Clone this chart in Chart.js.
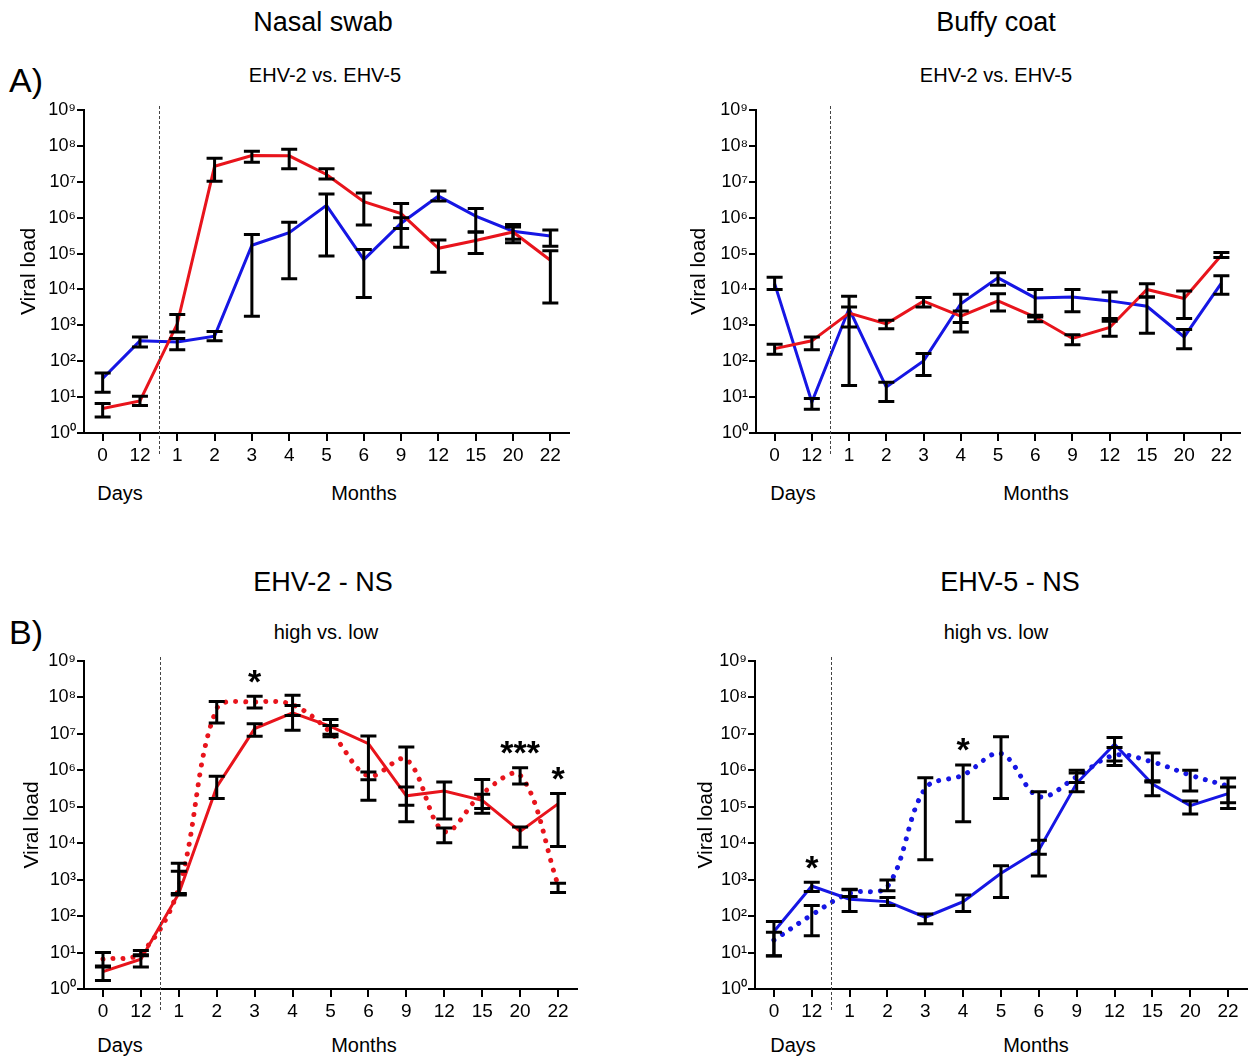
<!DOCTYPE html>
<html lang="en">
<head>
    <meta charset="UTF-8">
    <title>Viral load - EHV-2 / EHV-5</title>
    <script src="https://cdn.jsdelivr.net/npm/chart.js"></script>
    <style>
        body {
            margin: 0;
            background: #fff;
            font-family: "Liberation Sans", Arial, sans-serif;
            color: #000;
        }
        #page {
            position: relative;
            width: 1251px;
            height: 1057px;
            overflow: hidden;
        }
        .box {
            position: absolute;
        }
        .txt {
            position: absolute;
            transform: translate(-50%, -50%);
            white-space: nowrap;
            line-height: 1;
        }
        .title { font-size: 27px; }
        .sub { font-size: 20px; }
        .axis { font-size: 20px; }
        .letter { font-size: 34px; transform: translate(0, -50%); }
    </style>
</head>
<body>
<div id="page">
    <div class="txt title" style="left:323px; top:22px;">Nasal swab</div>
    <div class="txt title" style="left:996px; top:22px;">Buffy coat</div>
    <div class="txt letter" style="left:9px; top:80px;">A)</div>
    <div class="txt sub" style="left:325px; top:75px;">EHV-2 vs. EHV-5</div>
    <div class="txt sub" style="left:996px; top:75px;">EHV-2 vs. EHV-5</div>

    <div class="txt title" style="left:323px; top:582px;">EHV-2 - NS</div>
    <div class="txt title" style="left:1010px; top:582px;">EHV-5 - NS</div>
    <div class="txt letter" style="left:9px; top:632px;">B)</div>
    <div class="txt sub" style="left:326px; top:632px;">high vs. low</div>
    <div class="txt sub" style="left:996px; top:632px;">high vs. low</div>

    <div class="txt axis" style="left:120px; top:493px;">Days</div>
    <div class="txt axis" style="left:364px; top:493px;">Months</div>
    <div class="txt axis" style="left:793px; top:493px;">Days</div>
    <div class="txt axis" style="left:1036px; top:493px;">Months</div>
    <div class="txt axis" style="left:120px; top:1045px;">Days</div>
    <div class="txt axis" style="left:364px; top:1045px;">Months</div>
    <div class="txt axis" style="left:793px; top:1045px;">Days</div>
    <div class="txt axis" style="left:1036px; top:1045px;">Months</div>

    <div class="box" style="left:0px; top:90px; width:573px; height:403px;"><canvas id="nsChart"></canvas></div>
    <div class="box" style="left:672px; top:90px; width:572px; height:403px;"><canvas id="bcChart"></canvas></div>
    <div class="box" style="left:0px; top:641px; width:581px; height:408px;"><canvas id="ehv2Chart"></canvas></div>
    <div class="box" style="left:671px; top:641px; width:580px; height:408px;"><canvas id="ehv5Chart"></canvas></div>
</div>
<script>
    // time points: 0 and 12 days, then months
    const timeLabels = ['0', '12', '1', '2', '3', '4', '5', '6', '9', '12', '15', '20', '22'];
    const yTicks = [1, 1e1, 1e2, 1e3, 1e4, 1e5, 1e6, 1e7, 1e8, 1e9];
    const yTickLabels = ['10⁰', '10¹', '10²', '10³', '10⁴', '10⁵', '10⁶', '10⁷', '10⁸', '10⁹'];

    // A) nasal swab, EHV-2 (red) vs EHV-5 (blue)
    const nsEhv2 = [4.8, 7.8, 1100, 2.7e7, 5.4e7, 5.3e7, 1.6e7, 2.8e6, 1.3e6, 1.4e5, 2.3e5, 4.0e5, 6.5e4];
    const nsEhv2Hi = [6.6, 10.5, 2000, 4.5e7, 7.1e7, 8.1e7, 2.3e7, 4.9e6, 2.5e6, 2.4e5, 4.0e5, 6.5e5, 1.2e5];
    const nsEhv2Lo = [2.8, 5.8, 650, 1.04e7, 3.5e7, 2.3e7, 1.2e7, 6.2e5, 5.0e5, 3.0e4, 1.0e5, 2.0e5, 4.2e3];
    const nsEhv5 = [33, 370, 345, 500, 1.7e5, 3.8e5, 2.2e6, 6.8e4, 7.0e5, 4.0e6, 1.1e6, 4.2e5, 3.1e5];
    const nsEhv5Hi = [47, 475, 430, 670, 3.4e5, 7.5e5, 4.6e6, 1.3e5, 1.0e6, 5.5e6, 1.8e6, 5.5e5, 4.5e5];
    const nsEhv5Lo = [13.6, 250, 210, 370, 1800, 2.0e4, 8.6e4, 6.0e3, 1.5e5, 2.9e6, 4.0e5, 2.5e5, 1.6e5];

    // A) buffy coat
    const bcEhv2 = [224, 370, 2200, 1100, 4700, 1800, 4800, 1700, 430, 870, 1.0e4, 5600, 9.0e4];
    const bcEhv2Hi = [296, 475, 3250, 1380, 6000, 2500, 7600, 1900, 550, 1550, 1.45e4, 9100, 1.07e5];
    const bcEhv2Lo = [156, 210, 900, 800, 3250, 1200, 2500, 1250, 290, 500, 6200, 1550, 7.8e4];
    const bcEhv5 = [1.45e4, 7.3, 2900, 19, 102, 4000, 2.1e4, 5800, 6200, 4800, 3400, 475, 1.5e4];
    const bcEhv5Hi = [2.2e4, 9.1, 6500, 26, 163, 7400, 2.9e4, 1.0e4, 1.0e4, 8500, 6200, 760, 2.4e4];
    const bcEhv5Lo = [1.0e4, 4.6, 21, 7.5, 40, 650, 1.3e4, 1700, 2400, 1300, 600, 224, 7400];

    // B) EHV-2 NS, low (solid) vs high (dotted)
    const ehv2Low = [3.0, 6.6, 420, 3.5e5, 1.4e7, 3.8e7, 1.6e7, 5.4e6, 2.0e5, 2.7e5, 1.5e5, 2.1e4, 1.2e5];
    const ehv2LowHi = [4.0, 8.7, 1700, 6.9e5, 1.9e7, 6.0e7, 2.5e7, 8.7e6, 3.5e5, 4.8e5, 2.2e5, 2.8e4, 2.3e5];
    const ehv2LowLo = [1.7, 4.0, 380, 1.7e5, 8.6e6, 1.26e7, 8.3e6, 1.5e5, 3.9e4, 4.6e4, 6.6e4, 7.7e3, 8.1e3];
    const ehv2High = [6.6, 9.7, 600, 4.9e7, 7.5e7, 6.3e7, 1.1e7, 7.0e5, 2.0e6, 2.1e4, 2.3e5, 7.4e5, 720];
    const ehv2HighHi = [10, 11.4, 2800, 7.8e7, 1.07e8, 1.15e8, 1.7e7, 9.0e5, 4.4e6, 2.6e4, 5.6e5, 1.17e6, 800];
    const ehv2HighLo = [4.3, 8.2, 420, 2.0e7, 5.1e7, 3.2e7, 9.8e6, 5.5e5, 1.1e5, 1.03e4, 8.9e4, 4.2e5, 445];
    const ehv2StarIdx = [4, 11, 12];
    const ehv2StarText = ['*', '***', '*'];

    // B) EHV-5 NS
    const ehv5Low = [38, 670, 290, 250, 93, 250, 1500, 6500, 4.4e5, 5.2e6, 4.2e5, 1.07e5, 2.3e5];
    const ehv5LowHi = [71, 850, 525, 323, 115, 380, 2400, 1.2e4, 8.5e5, 7.9e6, 5.2e5, 1.45e5, 3.5e5];
    const ehv5LowLo = [8.0, 470, 134, 195, 62, 134, 323, 1260, 2.6e5, 1.35e6, 2.0e5, 6.3e4, 8.9e4];
    const ehv5High = [22, 108, 425, 650, 3.2e5, 7.4e5, 2.9e6, 1.9e5, 6.6e5, 2.6e6, 1.7e6, 7.4e5, 3.7e5];
    const ehv5HighHi = [36, 195, 550, 980, 6.3e5, 1.4e6, 8.3e6, 2.6e5, 1.0e6, 4.2e6, 3.0e6, 1.0e6, 6.2e5];
    const ehv5HighLo = [8.2, 29, 345, 500, 3500, 3.9e4, 1.7e5, 5000, 4.6e5, 1.8e6, 4.8e5, 2.7e5, 1.3e5];
    const ehv5StarIdx = [1, 5];
    const ehv5StarText = ['*', '*'];

    const RED = '#e8141c';
    const BLUE = '#1616e4';
    const FONT = '"Liberation Sans", Arial, sans-serif';

    function solid(label, data, hi, lo, color) {
        return {
            label: label, data: data, errHigh: hi, errLow: lo,
            borderColor: color, borderWidth: 3, pointRadius: 0, tension: 0, fill: false
        };
    }

    function dotted(label, data, hi, lo, color) {
        return {
            label: label, data: data, errHigh: hi, errLow: lo,
            borderColor: color, borderWidth: 5, borderDash: [0.01, 10], borderCapStyle: 'round',
            pointRadius: 0, tension: 0.35, fill: false
        };
    }

    // black error bars with caps, drawn over the lines
    const errorBars = {
        id: 'errorBars',
        afterDatasetsDraw(chart) {
            const ctx = chart.ctx;
            const x = chart.scales.x, y = chart.scales.y;
            ctx.save();
            ctx.strokeStyle = '#000';
            ctx.lineWidth = 3;
            chart.data.datasets.forEach(ds => {
                ds.errHigh.forEach((hi, i) => {
                    const px = x.getPixelForValue(i);
                    const top = y.getPixelForValue(hi);
                    const bot = y.getPixelForValue(ds.errLow[i]);
                    ctx.beginPath();
                    ctx.moveTo(px, top); ctx.lineTo(px, bot);
                    ctx.moveTo(px - 8, top); ctx.lineTo(px + 8, top);
                    ctx.moveTo(px - 8, bot); ctx.lineTo(px + 8, bot);
                    ctx.stroke();
                });
            });
            ctx.restore();
        }
    };

    // thin dashed line between days and months
    const divider = {
        id: 'divider',
        afterDraw(chart) {
            const ctx = chart.ctx;
            const px = Math.round(chart.scales.x.getPixelForValue(1.5)) + 0.5;
            const area = chart.chartArea;
            ctx.save();
            ctx.strokeStyle = '#444';
            ctx.lineWidth = 1;
            ctx.setLineDash([3, 2]);
            ctx.beginPath();
            ctx.moveTo(px, area.top - 4);
            ctx.lineTo(px, area.bottom + 21);
            ctx.stroke();
            ctx.restore();
        }
    };

    function starPlugin(idx, text) {
        return {
            id: 'stars',
            afterDatasetsDraw(chart) {
                const ctx = chart.ctx;
                const x = chart.scales.x, y = chart.scales.y;
                ctx.save();
                ctx.fillStyle = '#000';
                ctx.font = 'bold 34px ' + FONT;
                ctx.textAlign = 'center';
                ctx.textBaseline = 'middle';
                idx.forEach((i, k) => {
                    const top = Math.max(...chart.data.datasets.map(ds => ds.errHigh[i]));
                    ctx.fillText(text[k], x.getPixelForValue(i), y.getPixelForValue(top) - 13);
                });
                ctx.restore();
            }
        };
    }

    function makePanel(id, datasets, titlePad, extraPlugins) {
        return new Chart(document.getElementById(id), {
            type: 'line',
            data: { labels: timeLabels, datasets: datasets },
            options: {
                responsive: true,
                maintainAspectRatio: false,
                animation: false,
                layout: { padding: { top: 20, right: 4, left: 0, bottom: 0 } },
                plugins: { legend: { display: false }, tooltip: { enabled: false } },
                scales: {
                    x: {
                        type: 'category',
                        offset: true,
                        afterFit: s => { s.height = 60; },
                        ticks: { color: '#000', font: { family: FONT, size: 19 }, padding: 3, autoSkip: false, maxRotation: 0 },
                        grid: { display: true, drawOnChartArea: false, drawTicks: true, tickLength: 8, color: '#000', lineWidth: 2 },
                        border: { display: true, color: '#000', width: 2 }
                    },
                    y: {
                        type: 'logarithmic',
                        min: 1,
                        max: 1e9,
                        afterBuildTicks: s => { s.ticks = yTicks.map(v => ({ value: v })); },
                        afterFit: s => { s.width = 84; },
                        ticks: {
                            color: '#000', font: { family: FONT, size: 18 }, padding: 1, autoSkip: false,
                            callback: v => yTickLabels[yTicks.indexOf(v)]
                        },
                        grid: { display: true, drawOnChartArea: false, drawTicks: true, tickLength: 7, color: '#000', lineWidth: 2 },
                        border: { display: true, color: '#000', width: 2 },
                        title: {
                            display: true, text: 'Viral load', color: '#000',
                            font: { family: FONT, size: 21 }, padding: { top: titlePad, bottom: 0 }
                        }
                    }
                }
            },
            plugins: [errorBars, divider].concat(extraPlugins)
        });
    }

    makePanel('nsChart', [
        solid('EHV-2', nsEhv2, nsEhv2Hi, nsEhv2Lo, RED),
        solid('EHV-5', nsEhv5, nsEhv5Hi, nsEhv5Lo, BLUE)
    ], 17, []);

    makePanel('bcChart', [
        solid('EHV-2', bcEhv2, bcEhv2Hi, bcEhv2Lo, RED),
        solid('EHV-5', bcEhv5, bcEhv5Hi, bcEhv5Lo, BLUE)
    ], 15, []);

    makePanel('ehv2Chart', [
        dotted('high', ehv2High, ehv2HighHi, ehv2HighLo, RED),
        solid('low', ehv2Low, ehv2LowHi, ehv2LowLo, RED)
    ], 20, [starPlugin(ehv2StarIdx, ehv2StarText)]);

    makePanel('ehv5Chart', [
        dotted('high', ehv5High, ehv5HighHi, ehv5HighLo, BLUE),
        solid('low', ehv5Low, ehv5LowHi, ehv5LowLo, BLUE)
    ], 23, [starPlugin(ehv5StarIdx, ehv5StarText)]);
</script>
</body>
</html>
